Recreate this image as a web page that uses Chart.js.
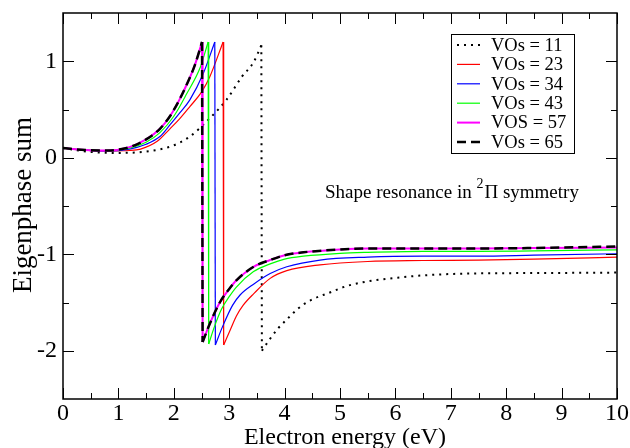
<!DOCTYPE html>
<html>
<head>
<meta charset="utf-8">
<script src="https://cdn.jsdelivr.net/npm/chart.js@4.4.0/dist/chart.umd.min.js"></script>
<style>
  html, body { margin: 0; padding: 0; background: #fff; }
  canvas { display: block; }
</style>
</head>
<body>
<canvas id="chart" width="630" height="448"></canvas>
<script>
// values (energy in eV, eigenphase sum)
const vos11X = [0, 0.5, 1.0, 1.5, 1.96, 2.29, 2.65, 2.95, 3.23, 3.44, 3.58, 3.59, 3.72, 3.88, 4.05, 4.25, 4.46, 4.8, 5.18, 6.08, 7.3, 8.5, 10];
const vos11Y = [0.10, 0.06, 0.05, 0.065, 0.12, 0.22, 0.41, 0.60, 0.84, 0.99, 1.165, -2.0, -1.89, -1.77, -1.67, -1.56, -1.48, -1.40, -1.32, -1.24, -1.20, -1.195, -1.19];

const vos23X = [0, 0.4, 0.8, 1.2, 1.4, 1.7, 1.93, 2.1, 2.29, 2.5, 2.65, 2.89, 2.9, 3.03, 3.13, 3.25, 3.44, 3.74, 4.04, 4.64, 5.5, 6.5, 7.5, 8.5, 10];
const vos23Y = [0.10, 0.08, 0.07, 0.075, 0.09, 0.17, 0.30, 0.40, 0.53, 0.68, 0.84, 1.2, -1.94, -1.77, -1.64, -1.53, -1.41, -1.25, -1.17, -1.11, -1.075, -1.065, -1.06, -1.05, -1.03];

const vos34X = [0, 0.4, 0.8, 1.2, 1.5, 1.75, 1.93, 2.1, 2.29, 2.53, 2.74, 2.75, 2.88, 3.06, 3.2, 3.44, 3.74, 4.04, 4.64, 5.5, 6.5, 7.5, 8.5, 10];
const vos34Y = [0.10, 0.08, 0.07, 0.09, 0.14, 0.22, 0.34, 0.46, 0.60, 0.87, 1.2, -1.94, -1.75, -1.53, -1.42, -1.31, -1.20, -1.13, -1.06, -1.03, -1.02, -1.02, -1.01, -0.995];

const vos43X = [0, 0.4, 0.8, 1.2, 1.5, 1.75, 2.0, 2.23, 2.48, 2.62, 2.63, 2.74, 2.86, 3.0, 3.13, 3.44, 3.74, 4.0, 4.34, 5.0, 5.5, 6.5, 7.5, 8.5, 10];
const vos43Y = [0.10, 0.08, 0.075, 0.10, 0.16, 0.26, 0.43, 0.66, 0.94, 1.2, -1.93, -1.74, -1.57, -1.44, -1.34, -1.18, -1.10, -1.05, -1.02, -0.99, -0.98, -0.97, -0.97, -0.965, -0.955];

const vos57X = [0, 0.4, 0.8, 1.2, 1.5, 1.75, 1.93, 2.1, 2.25, 2.38, 2.51, 2.52, 2.65, 2.83, 3.0, 3.13, 3.44, 3.74, 4.0, 4.34, 5.0, 5.5, 6.5, 7.5, 8.5, 10];
const vos57Y = [0.10, 0.08, 0.075, 0.11, 0.19, 0.30, 0.43, 0.60, 0.78, 0.96, 1.2, -1.91, -1.72, -1.50, -1.36, -1.27, -1.13, -1.06, -1.01, -0.98, -0.95, -0.94, -0.94, -0.94, -0.935, -0.93];

const vos65X = [0, 0.4, 0.8, 1.2, 1.5, 1.75, 1.93, 2.1, 2.25, 2.38, 2.51, 2.52, 2.65, 2.83, 3.0, 3.13, 3.44, 3.74, 4.0, 4.34, 5.0, 5.5, 6.5, 7.5, 8.5, 10];
const vos65Y = [0.10, 0.08, 0.075, 0.11, 0.19, 0.30, 0.43, 0.60, 0.78, 0.96, 1.2, -1.91, -1.72, -1.50, -1.36, -1.27, -1.13, -1.06, -1.01, -0.98, -0.95, -0.94, -0.94, -0.94, -0.935, -0.92];

const seriesLabels = ["VOs = 11", "VOs = 23", "VOs = 34", "VOs = 43", "VOS = 57", "VOs = 65"];

const xTicks = [0, 1, 2, 3, 4, 5, 6, 7, 8, 9, 10];
const xMinorTicks = [0.5, 1.5, 2.5, 3.5, 4.5, 5.5, 6.5, 7.5, 8.5, 9.5];
const yTicks = [-2, -1, 0, 1];
const yMinorTicks = [-1.5, -0.5, 0.5];

const SERIF = "'Liberation Serif', 'DejaVu Serif', serif";

const series = [
  { label: seriesLabels[0], xs: vos11X, ys: vos11Y, color: "#000000", width: 2, dash: [2, 5] },
  { label: seriesLabels[1], xs: vos23X, ys: vos23Y, color: "#ff0000", width: 1.2, dash: [] },
  { label: seriesLabels[2], xs: vos34X, ys: vos34Y, color: "#0000ff", width: 1.2, dash: [] },
  { label: seriesLabels[3], xs: vos43X, ys: vos43Y, color: "#00ff00", width: 1.2, dash: [] },
  { label: seriesLabels[4], xs: vos57X, ys: vos57Y, color: "#ff00ff", width: 2, dash: [] },
  { label: seriesLabels[5], xs: vos65X, ys: vos65Y, color: "#000000", width: 2.5, dash: [9, 5] },
];

function toPoints(xs, ys, from, to) {
  const pts = [];
  for (let i = from; i <= to; i++) pts.push({ x: xs[i], y: ys[i] });
  return pts;
}

// each curve is split at the phase jump: smooth branch, vertical drop, smooth branch
function buildDatasets() {
  const sets = [];
  series.forEach((s, n) => {
    let k = 0;
    while (k < s.ys.length - 1 && s.ys[k + 1] - s.ys[k] > -2) k++;
    const parts = [
      [0, k, "monotone"],
      [k, k + 1, "default"],
      [k + 1, s.xs.length - 1, "monotone"],
    ];
    parts.forEach(p => {
      sets.push({
        label: s.label,
        data: toPoints(s.xs, s.ys, p[0], p[1]),
        borderColor: s.color,
        backgroundColor: s.color,
        borderWidth: s.width,
        borderDash: s.dash,
        showLine: true,
        fill: false,
        tension: 0,
        cubicInterpolationMode: p[2],
        pointRadius: 0,
        order: series.length - n,
      });
    });
  });
  return sets;
}

// frame, inward ticks on all four sides, legend box and the text note
const decorPlugin = {
  id: "decor",
  afterDraw(chart) {
    const ctx = chart.ctx;
    const a = chart.chartArea;
    const xs = chart.scales.x;
    const ys = chart.scales.y;
    ctx.save();
    ctx.strokeStyle = "#000";
    ctx.lineWidth = 1.5;
    ctx.strokeRect(a.left, a.top, a.right - a.left, a.bottom - a.top);

    ctx.lineWidth = 1;
    ctx.beginPath();
    const tickX = (v, len) => {
      const p = Math.round(xs.getPixelForValue(v)) + 0.5;
      ctx.moveTo(p, a.bottom); ctx.lineTo(p, a.bottom - len);
      ctx.moveTo(p, a.top); ctx.lineTo(p, a.top + len);
    };
    const tickY = (v, len) => {
      const p = Math.round(ys.getPixelForValue(v)) + 0.5;
      ctx.moveTo(a.left, p); ctx.lineTo(a.left + len, p);
      ctx.moveTo(a.right, p); ctx.lineTo(a.right - len, p);
    };
    xTicks.forEach(v => tickX(v, 11));
    xMinorTicks.forEach(v => tickX(v, 6));
    yTicks.forEach(v => tickY(v, 11));
    yMinorTicks.forEach(v => tickY(v, 6));
    ctx.stroke();

    // axis titles
    ctx.fillStyle = "#000";
    ctx.textAlign = "center";
    ctx.textBaseline = "alphabetic";
    ctx.font = "24px " + SERIF;
    ctx.fillText("Electron energy (eV)", 345, 444);
    ctx.save();
    ctx.translate(31, 205);
    ctx.rotate(-Math.PI / 2);
    ctx.font = "27px " + SERIF;
    ctx.fillText("Eigenphase sum", 0, 0);
    ctx.restore();

    // legend
    const lx = 451, ly = 34, lw = 123, lh = 119;
    ctx.lineWidth = 1;
    ctx.strokeRect(lx + 0.5, ly + 0.5, lw, lh);
    ctx.font = "18.5px " + SERIF;
    ctx.textAlign = "left";
    ctx.textBaseline = "middle";
    series.forEach((s, i) => {
      const y = ly + 11 + i * 19.4;
      ctx.save();
      ctx.strokeStyle = s.color;
      ctx.lineWidth = s.width;
      ctx.setLineDash(s.dash);
      ctx.beginPath();
      ctx.moveTo(lx + 6, y);
      ctx.lineTo(lx + 29, y);
      ctx.stroke();
      ctx.restore();
      ctx.fillText(s.label, lx + 40, y + 1);
    });

    // note
    ctx.textBaseline = "alphabetic";
    ctx.font = "19px " + SERIF;
    let tx = 325;
    const part1 = "Shape resonance in ";
    ctx.fillText(part1, tx, 198);
    tx += ctx.measureText(part1).width;
    ctx.font = "14px " + SERIF;
    ctx.fillText("2", tx, 188);
    tx += ctx.measureText("2").width + 1;
    ctx.font = "19px " + SERIF;
    ctx.fillText("\u03A0 symmetry", tx, 198);
    ctx.restore();
  },
};

const ctx = document.getElementById("chart").getContext("2d");
new Chart(ctx, {
  type: "scatter",
  data: { datasets: buildDatasets() },
  options: {
    responsive: false,
    animation: false,
    layout: { padding: { top: 13, right: 13, left: 0, bottom: 0 } },
    plugins: {
      legend: { display: false },
      tooltip: { enabled: false },
    },
    scales: {
      x: {
        type: "linear",
        min: 0,
        max: 10,
        afterBuildTicks: s => { s.ticks = xTicks.map(v => ({ value: v })); },
        afterFit: s => { s.height = 49; s.paddingLeft = 0; s.paddingRight = 0; },
        grid: { display: false, drawTicks: false },
        border: { display: false },
        ticks: { color: "#000", font: { family: SERIF, size: 24 }, padding: 0, maxRotation: 0 },
      },
      y: {
        type: "linear",
        min: -2.5,
        max: 1.5,
        afterBuildTicks: s => { s.ticks = yTicks.map(v => ({ value: v })); },
        afterFit: s => { s.width = 63; s.paddingTop = 0; s.paddingBottom = 0; },
        grid: { display: false, drawTicks: false },
        border: { display: false },
        ticks: { color: "#000", font: { family: SERIF, size: 24 }, padding: 6 },
      },
    },
  },
  plugins: [decorPlugin],
});
</script>
</body>
</html>
